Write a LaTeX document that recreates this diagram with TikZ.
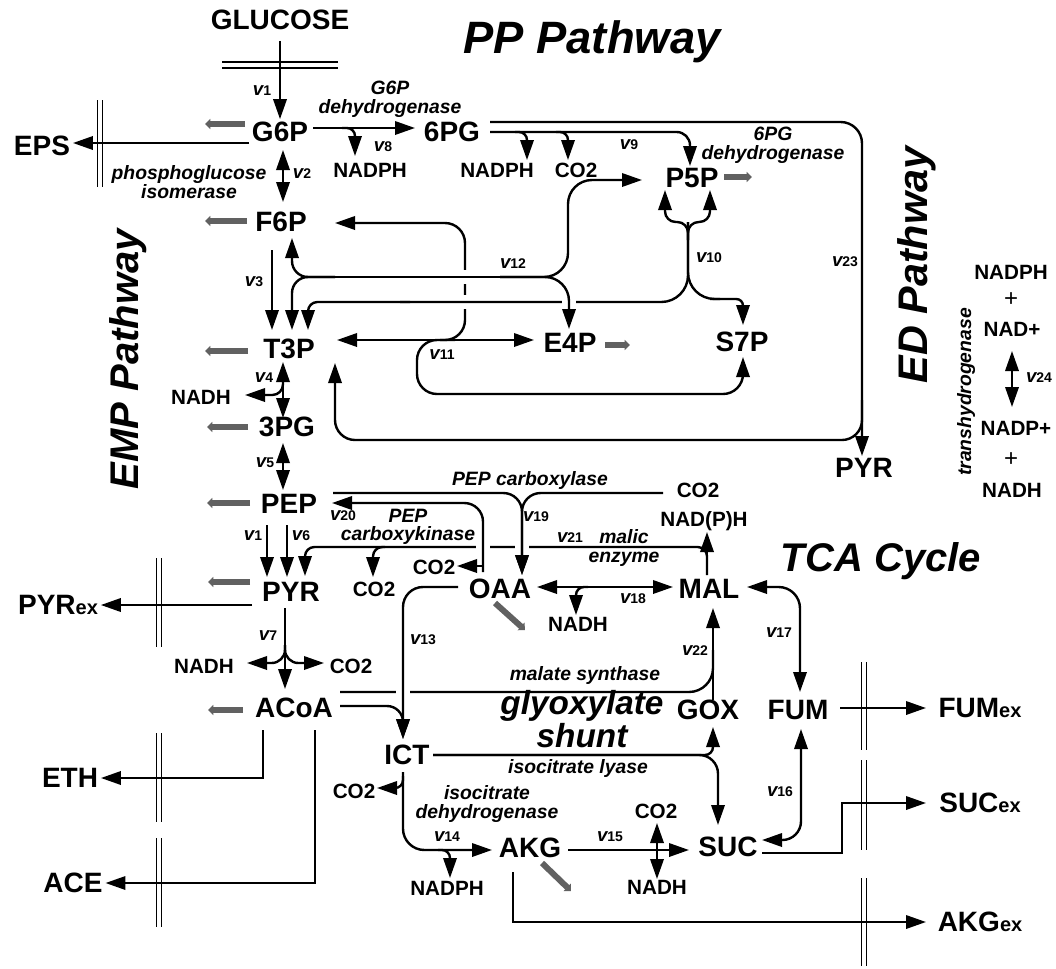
\documentclass[tikz,border=0pt]{standalone}
\usepackage{fontspec}
\setmainfont{Liberation Sans}
\usetikzlibrary{arrows.meta}
\newcommand{\vrate}[1]{{\fontsize{14}{14}\selectfont\bfseries\itshape v}{\fontsize{10.5}{11}\selectfont\bfseries #1}}
\newcommand{\exs}{{\fontsize{15}{15}\selectfont ex}}

\begin{document}
\begin{tikzpicture}[x=0.75pt,y=-0.75pt,
  met/.style={font=\fontsize{21}{21}\selectfont\bfseries,inner sep=2pt},
  cof/.style={font=\fontsize{15.5}{16}\selectfont\bfseries,inner sep=1pt},
  enz/.style={font=\fontsize{14.5}{14}\selectfont\bfseries\itshape,align=center,inner sep=0pt},
  ttl/.style={font=\fontsize{31}{31}\selectfont\bfseries\itshape,inner sep=0pt},
  vlab/.style={inner sep=0pt},
  flux/.style={line width=1.8pt,-{Triangle[length=15pt,width=10pt]}},
  biflux/.style={line width=1.8pt,{Triangle[length=15pt,width=10pt]}-{Triangle[length=15pt,width=10pt]}},
  rline/.style={line width=1.8pt},
  drain/.style={draw=black!62,line width=4.5pt,-{Triangle[length=4pt,width=7.5pt]}},
  memb/.style={line width=0.9pt},
  cutout/.style={draw=white,line width=5pt}]
\useasboundingbox (0,0) rectangle (1056,968);

% metabolites
\node[met] (glc) at (280,20) {GLUCOSE};
\node[met] (g6p) at (280,132) {G6P};
\node[met] (eps) at (42,146) {EPS};
\node[met] (f6p) at (281,222) {F6P};
\node[met] (t3p) at (289,349) {T3P};
\node[met] (pg3) at (287,427) {3PG};
\node[met] (pep) at (289,504) {PEP};
\node[met] (pyr) at (291,592) {PYR};
\node[met] (acoa) at (294,708) {ACoA};
\node[met] (pyrex) at (58,605) {PYR\exs};
\node[met] (eth) at (70,778) {ETH};
\node[met] (ace) at (73,883) {ACE};
\node[met] (pg6) at (452,132) {6PG};
\node[met] (p5p) at (692,178) {P5P};
\node[met] (e4p) at (570,343) {E4P};
\node[met] (s7p) at (742,342) {S7P};
\node[met] (pyred) at (864,468) {PYR};
\node[met] (oaa) at (500,589) {OAA};
\node[met] (mal) at (709,589) {MAL};
\node[met] (ict) at (407,755) {ICT};
\node[met] (akg) at (530,848) {AKG};
\node[met] (suc) at (728,847) {SUC};
\node[met] (fum) at (798,710) {FUM};
\node[met] (gox) at (708,710) {GOX};
\node[met] (fumex) at (980,708) {FUM\exs};
\node[met] (sucex) at (980,803) {SUC\exs};
\node[met] (akgex) at (980,922) {AKG\exs};

% cofactors
\node[cof] (nadpha) at (370,170) {NADPH};
\node[cof] (nadphb) at (497,170) {NADPH};
\node[cof] (co2a) at (576,170) {CO2};
\node[cof] (nadha) at (201,397) {NADH};
\node[cof] (nadhb) at (204,666) {NADH};
\node[cof] (co2b) at (351,666) {CO2};
\node[cof] (co2c) at (374,589) {CO2};
\node[cof] (co2d) at (434,567) {CO2};
\node[cof] (co2e) at (698,490) {CO2};
\node[cof] (nadpphc) at (704,521) {NAD(P)H};
\node[cof] (nadhc) at (578,624) {NADH};
\node[cof] (co2f) at (354,791) {CO2};
\node[cof] (nadphd) at (447,888) {NADPH};
\node[cof] (co2g) at (656,811) {CO2};
\node[cof] (nadhd) at (657,887) {NADH};
\node[cof] (thnadph) at (1011,272) {NADPH};
\node[font=\fontsize{18}{18}\selectfont,inner sep=0pt] (thplusa) at (1011,300) {+};
\node[cof] (thnad) at (1012,329) {NAD+};
\node[cof] (thnadp) at (1016,428) {NADP+};
\node[font=\fontsize{18}{18}\selectfont,inner sep=0pt] (thplusb) at (1011,460) {+};
\node[cof] (thnadh) at (1012,490) {NADH};

% enzymes and titles
\node[enz] (eg6pdh) at (390,99) {G6P\\dehydrogenase};
\node[enz] (epgi) at (189,182) {phosphoglucose\\isomerase};
\node[enz] (e6pgdh) at (773,145) {6PG\\dehydrogenase};
\node[enz] (eppc) at (530,480) {PEP carboxylase};
\node[enz] (epck) at (408,527) {PEP\\carboxykinase};
\node[enz] (emae) at (624,548) {malic\\enzyme};
\node[enz] (ems) at (585,675) {malate synthase};
\node[enz] (eicl) at (578,768) {isocitrate lyase};
\node[enz] (eicdh) at (487,804) {isocitrate\\dehydrogenase};
\node[enz,rotate=90] (ethd) at (966,392) {transhydrogenase};
\node[ttl,font=\fontsize{34}{34}\selectfont\bfseries\itshape] (tpp) at (592,42) {PP Pathway};
\node[ttl,font=\fontsize{30}{30}\selectfont\bfseries\itshape,rotate=90] (temp) at (128,359) {EMP Pathway};
\node[ttl,rotate=90] (ted) at (917,265) {ED Pathway};
\node[ttl,font=\fontsize{30}{30}\selectfont\bfseries\itshape] (ttca) at (881,561) {TCA Cycle};
\node[enz,font=\fontsize{25}{18}\selectfont\bfseries\itshape] (tgly) at (582,719) {glyoxylate\\shunt};

% rates
\node[vlab] (ra) at (262,91) {\vrate{1}};
\node[vlab] (rb) at (302,174) {\vrate{2}};
\node[vlab] (rc) at (254,282) {\vrate{3}};
\node[vlab] (rd) at (264,378) {\vrate{4}};
\node[vlab] (re) at (265,463) {\vrate{5}};
\node[vlab] (rf) at (253,536) {\vrate{1}};
\node[vlab] (rg) at (301,536) {\vrate{6}};
\node[vlab] (rh) at (268,636) {\vrate{7}};
\node[vlab] (ri) at (383,147) {\vrate{8}};
\node[vlab] (rj) at (629,145) {\vrate{9}};
\node[vlab] (rk) at (709,258) {\vrate{10}};
\node[vlab] (rl) at (442,355) {\vrate{11}};
\node[vlab] (rm) at (513,264) {\vrate{12}};
\node[vlab] (rn) at (423,640) {\vrate{13}};
\node[vlab] (ro) at (447,837) {\vrate{14}};
\node[vlab] (rp) at (610,837) {\vrate{15}};
\node[vlab] (rq) at (780,792) {\vrate{16}};
\node[vlab] (rr) at (779,633) {\vrate{17}};
\node[vlab] (rs) at (633,599) {\vrate{18}};
\node[vlab] (rt) at (536,517) {\vrate{19}};
\node[vlab] (ru) at (343,516) {\vrate{20}};
\node[vlab] (rv) at (570,538) {\vrate{21}};
\node[vlab] (rw) at (695,651) {\vrate{22}};
\node[vlab] (rx) at (845,262) {\vrate{23}};
\node[vlab] (ry) at (1039,378) {\vrate{24}};

% membranes and drains
\draw[memb] (222,62) -- (338,62) (222,68) -- (338,68);
\foreach \mx/\ya/\yb in {100/100/187,159/558/647,159/733/822,159/838/927,864/662/750,864/760/850,864/878/966}
  \draw[memb] (\mx-2.5,\ya) -- (\mx-2.5,\yb) (\mx+2.5,\ya) -- (\mx+2.5,\yb);
\foreach \xa/\yy/\xb in {245/124/205,247/221/205,248/351/205,248/427/207,250/503/207,250/582/208,243/710/208,724/177/752,605/345/630}
  \draw[drain] (\xa,\yy) -- (\xb,\yy);
\draw[drain] (495,603) -- (525,630);
\draw[drain] (542,863) -- (571,891);

% EMP pathway
\draw[flux,shorten <=6pt] (glc) -- (g6p);
\draw[flux] (g6p.west |- 0,143) -- (eps.east |- 0,143);
\draw[biflux] (283,150) -- (283,202);
\draw[flux] (272,250) -- (272,330);
\draw[biflux] (283,362) -- (283,418);
\draw[flux,rounded corners=8] (283,380) |- (245,395);
\draw[biflux] (283,443) -- (283,490);
\draw[flux] (267,525) -- (267,577);
\draw[flux] (287,525) -- (287,577);
\draw[flux] (285,608) -- (285,689);
\draw[flux,rounded corners=10] (285,645) |- (247,663);
\draw[flux,rounded corners=10] (285,645) |- (324,663);
\draw[flux] (252,605) -- (pyrex.east |- 0,605);
\draw[flux] (263,730) |- (eth.east);
\draw[flux] (315,730) |- (ace.east);

% PP and ED pathways
\draw[flux] (313,128) -- (415,128);
\draw[flux,rounded corners=6] (342,128) -| (355,156);
\draw[flux,rounded corners=10] (490,132) -| (690,166);
\draw[flux,rounded corners=6] (515,132) -| (527,160);
\draw[flux,rounded corners=6] (556,132) -| (568,160);
\draw[flux,rounded corners=16] (490,122) -| (862,456);
\draw[flux,rounded corners=15] (862,400) |- (335,440) -- (335,363);
\draw[flux,rounded corners=15] (440,340) -| (465,270) |- (335,223);
\draw[cutout] (465,270) -- (465,284) (465,295) -- (465,309);
\draw[flux,rounded corners=12] (335,277) -| (292,238);
\draw[flux,rounded corners=12] (335,277) -| (292,330);
\draw[rline] (330,277) -- (510,277);
\draw[flux,rounded corners=18] (500,277) -| (568,180) -- (642,180);
\draw[rline,rounded corners=20] (688,222) |- (400,302);
\draw[flux,rounded corners=7] (410,302) -| (308,330);
\draw[rline,rounded corners=20] (688,222) |- (720,299);
\draw[flux,rounded corners=5] (710,299) -| (743,325);
\draw[flux,rounded corners=8] (688,240) |- (665,222) -- (665,190);
\draw[flux,rounded corners=8] (688,240) |- (710,222) -- (710,190);
\draw[cutout] (562,302) -- (576,302);
\draw[flux,rounded corners=18] (500,277) -| (569,329);
\draw[biflux] (337,340) -- (534,340);
\draw[flux,rounded corners=15] (455,340) -| (417,394) -| (743,357);
\draw[biflux] (1012,351) -- (1012,407);

% anaplerotic reactions
\draw[flux,rounded corners=7] (707,575) |- (305,547) -- (305,576);
\draw[flux] (707,575) -- (707,532);
\draw[flux,rounded corners=7] (385,547) -| (373,577);
\draw[cutout] (476,547) -- (490,547) (515,547) -- (529,547);
\draw[flux,rounded corners=14] (333,493) -| (522,575);
\draw[flux,rounded corners=14] (663,493) -| (522,575);
\draw[flux,rounded corners=14] (483,572) |- (332,503);
\draw[flux] (483,566) -- (457,566);

% TCA cycle and glyoxylate shunt
\draw[biflux] (537,587) -- (673,587);
\draw[flux,rounded corners=6] (588,587) -| (576,615);
\draw[rline,rounded corners=18] (340,692) -| (713,650);
\draw[flux] (713,700) -- (713,608);
\draw[cutout] (396,692) -- (410,692);
\draw[flux,rounded corners=15] (458,587) -| (403,739);
\draw[flux,rounded corners=12] (340,706) -| (403,739);
\draw[flux,rounded corners=6] (433,755) -| (713,727);
\draw[flux,rounded corners=14] (433,755) -| (718,825);
\draw[flux,rounded corners=16] (403,772) |- (492,850);
\draw[flux,rounded corners=6] (403,776) |- (377,788);
\draw[flux,rounded corners=6] (438,850) -| (450,878);
\draw[flux] (568,850) -- (689,850);
\draw[flux] (657,850) -- (657,823);
\draw[flux] (657,850) -- (657,879);
\draw[flux] (513,872) |- (926,922);
\draw[biflux,rounded corners=16] (747,587) -| (800,692);
\draw[biflux,rounded corners=14] (801,729) |- (762,840);
\draw[flux] (840,708) -- (926,708);
\draw[flux] (762,853) -| (842,803) -- (926,803);
\end{tikzpicture}
\end{document}
